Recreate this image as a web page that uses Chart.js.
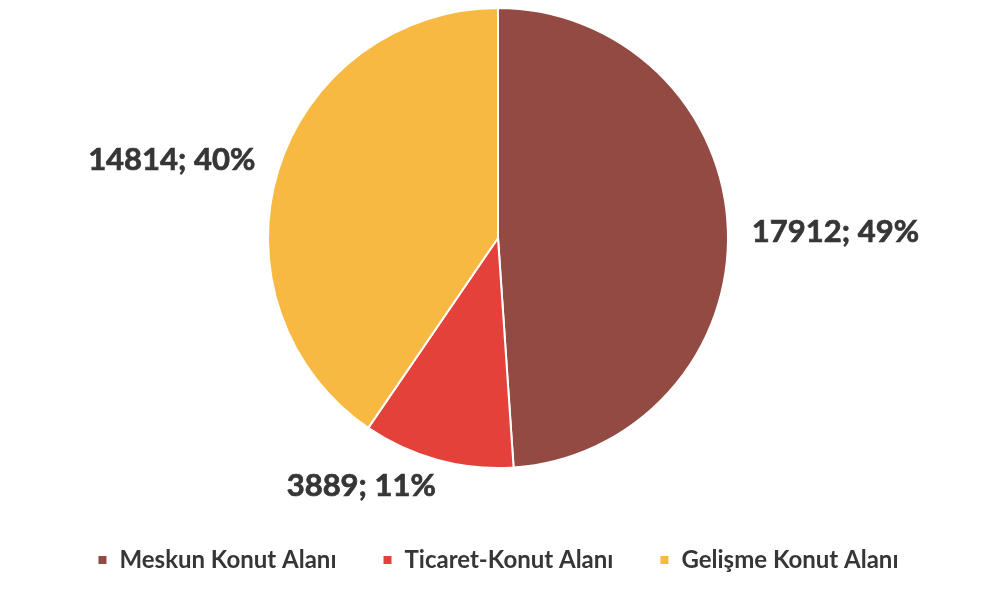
<!DOCTYPE html>
<html>
<head>
<meta charset="utf-8">
<script src="https://cdn.jsdelivr.net/npm/chart.js@4"></script>
<style>
  html, body { margin: 0; padding: 0; background: #fff; }
  #wrap { width: 987px; height: 597px; }
</style>
</head>
<body>
<div id="wrap"><canvas id="myChart"></canvas></div>
<script>
const categories = ['Meskun Konut Alanı', 'Ticaret-Konut Alanı', 'Gelişme Konut Alanı'];
const areas = [17912, 3889, 14814];
const percents = [49, 11, 40];
const sliceColors = ['#934a42', '#e5413b', '#f8b942'];

// value labels outside each slice, "value; pct%"
const outsideLabels = {
  id: 'outsideLabels',
  afterDatasetsDraw(chart, args, opts) {
    const ctx = chart.ctx;
    const arcs = chart.getDatasetMeta(0).data;
    ctx.save();
    ctx.font = 'bold 31px Lato';
    ctx.fillStyle = '#363636';
    ctx.strokeStyle = '#363636';
    ctx.lineWidth = 0.7;
    ctx.textBaseline = 'middle';
    arcs.forEach(function(arc, i) {
      const p = arc.getProps(['x', 'y', 'startAngle', 'endAngle', 'outerRadius'], true);
      const mid = (p.startAngle + p.endAngle) / 2;
      const r = p.outerRadius + opts.gap;
      const cx = Math.cos(mid), cy = Math.sin(mid);
      let x = p.x + r * cx;
      let y = p.y + r * cy;
      if (cx > 0.4) ctx.textAlign = 'left';
      else if (cx < -0.4) ctx.textAlign = 'right';
      else ctx.textAlign = 'center';
      const n = opts.nudge[i] || [0, 0];
      const txt = areas[i] + '; ' + percents[i] + '%';
      ctx.fillText(txt, x + n[0], y + n[1]);
      ctx.strokeText(txt, x + n[0], y + n[1]);
    });
    ctx.restore();
  }
};

const ctx = document.getElementById('myChart').getContext('2d');
const myChart = new Chart(ctx, {
  type: 'pie',
  data: {
    labels: categories,
    datasets: [{
      data: areas,
      backgroundColor: sliceColors,
      borderColor: '#ffffff',
      borderWidth: 2
    }]
  },
  options: {
    responsive: true,
    maintainAspectRatio: false,
    animation: false,
    radius: 230,
    layout: { padding: { left: 9, top: 0, right: 0, bottom: 15 } },
    plugins: {
      tooltip: { enabled: false },
      legend: {
        position: 'bottom',
        title: { display: true, text: '', font: { size: 10 }, padding: { top: 14, bottom: 0 } },
        labels: {
          boxWidth: 10,
          boxHeight: 10,
          padding: 46,
          color: '#363636',
          font: { family: 'Lato', size: 24, weight: 'bold' }
        }
      },
      outsideLabels: {
        gap: 24,
        nudge: [[0, 3], [-70, 3], [0, -3]]
      }
    }
  },
  plugins: [outsideLabels]
});
</script>
</body>
</html>
